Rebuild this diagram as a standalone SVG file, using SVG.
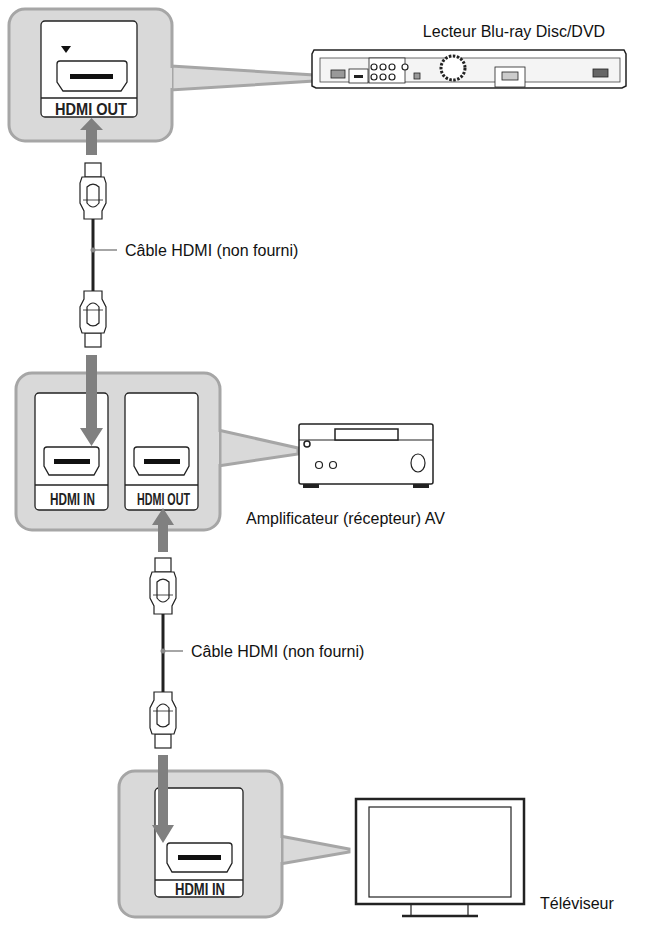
<svg xmlns="http://www.w3.org/2000/svg" width="668" height="926" viewBox="0 0 668 926">
<defs>
<style>
.bub{fill:#d9d9d9;stroke:#a6a6a6;stroke-width:3}
.pan{fill:#fff;stroke:#222;stroke-width:1.3}
.port{fill:#fff;stroke:#222;stroke-width:1.3}
.lbl{font-family:"Liberation Sans Narrow","Liberation Sans",sans-serif;font-weight:bold;font-size:17px;fill:#222}
.txt{font-family:"Liberation Sans",Arial,sans-serif;font-size:16px;fill:#111}
.arr{fill:#808080}
.dev{fill:#fff;stroke:#222;stroke-width:1.5}
.plug{fill:#fff;stroke:#222;stroke-width:1.2}
.cab{stroke:#222;stroke-width:3;fill:none}
.lead{stroke:#888;stroke-width:1.5}
</style>
<g id="plugU">
<rect class="plug" x="-8" y="0" width="16" height="14"/>
<path class="plug" d="M-11 14 H11 L13 20 V40 L9 48 V56 H-9 V48 L-13 40 V20 Z"/>
<path class="plug" d="M-6 24 Q0 18 6 24 V40 Q0 48 -6 40 Z"/>
<line x1="-10" y1="37" x2="10" y2="37" stroke="#222" stroke-width="0.8"/>
</g>
<g id="plugD"><use href="#plugU" transform="scale(1,-1)"/></g>
</defs>

<g id="box-player">
<path class="bub" d="M171 66 L330 76 L330 80 L171 90 Z"/>
<rect class="bub" x="9" y="9" width="163" height="132" rx="16"/>
<path d="M170 68 L170 88" stroke="#d9d9d9" stroke-width="4"/>
<rect class="pan" x="41" y="21" width="96" height="96" rx="4"/>
<line x1="41" y1="98" x2="137" y2="98" stroke="#222" stroke-width="1.3"/>
<path class="port" d="M60 61 H124 Q127 61 127 64 V82 L121 91 H63 L57 82 V64 Q57 61 60 61 Z"/>
<rect x="70" y="74" width="43" height="5" fill="#111"/>
<path d="M61 46 H71 L66 53 Z" fill="#111"/>
<text class="lbl" x="55" y="115" textLength="72" lengthAdjust="spacingAndGlyphs">HDMI OUT</text>
</g>

<g id="player">
<text class="txt" x="514" y="37" text-anchor="middle">Lecteur Blu-ray Disc/DVD</text>
<path class="dev" d="M314 50 H624 L626 54 V86 L622 88 H316 L312 86 V54 Z" fill="#e8e8e8"/>
<rect x="320" y="58" width="300" height="24" fill="#f4f4f4" stroke="#444" stroke-width="0.8"/>
<rect x="331" y="70" width="14" height="8" fill="#999" stroke="#222" stroke-width="0.8"/>
<rect x="349" y="69" width="19" height="14" fill="#fff" stroke="#222" stroke-width="0.8"/>
<rect x="354" y="75" width="9" height="3" fill="#222"/>
<rect x="369" y="58" width="36" height="25" fill="#fff" stroke="#222" stroke-width="0.8"/>
<g fill="#fff" stroke="#222" stroke-width="1.2"><circle cx="374" cy="67" r="3"/><circle cx="383" cy="67" r="3"/><circle cx="392" cy="67" r="3"/><circle cx="405" cy="67" r="3"/><circle cx="374" cy="77" r="3"/><circle cx="383" cy="77" r="3"/><circle cx="392" cy="77" r="3"/></g>
<rect x="414" y="73" width="6" height="6" fill="#999" stroke="#222" stroke-width="0.8"/>
<circle cx="453" cy="68" r="12" fill="#fff" stroke="#222" stroke-width="3" stroke-dasharray="2.5 1.5"/>
<rect x="495" y="67" width="30" height="20" fill="#fff" stroke="#222" stroke-width="0.8"/>
<rect x="502" y="72" width="16" height="8" fill="#ccc" stroke="#222" stroke-width="0.8"/>
<rect x="593" y="69" width="15" height="8" fill="#666" stroke="#222" stroke-width="0.8"/>
</g>

<g id="box-amp">
<path class="bub" d="M218 430 L298 448 L298 454 L218 466 Z"/>
<rect class="bub" x="16" y="373" width="204" height="157" rx="16"/>
<path d="M217 432 L217 464" stroke="#d9d9d9" stroke-width="4"/>
<rect class="pan" x="35" y="393" width="73" height="117" rx="4"/>
<line x1="35" y1="485" x2="108" y2="485" stroke="#222" stroke-width="1.3"/>
<path class="port" d="M47 447 H96 Q99 447 99 450 V466 L94 475 H49 L44 466 V450 Q44 447 47 447 Z"/>
<rect x="54" y="459" width="36" height="5" fill="#111"/>
<text class="lbl" x="50" y="505" textLength="45" lengthAdjust="spacingAndGlyphs">HDMI IN</text>
<rect class="pan" x="125" y="393" width="73" height="117" rx="4"/>
<line x1="125" y1="485" x2="198" y2="485" stroke="#222" stroke-width="1.3"/>
<path class="port" d="M137 447 H186 Q189 447 189 450 V466 L184 475 H139 L134 466 V450 Q134 447 137 447 Z"/>
<rect x="144" y="459" width="36" height="5" fill="#111"/>
<text class="lbl" x="137" y="505" textLength="53" lengthAdjust="spacingAndGlyphs">HDMI OUT</text>
</g>

<g id="amp">
<rect class="dev" x="299" y="424" width="134" height="60" rx="2"/>
<line x1="299" y1="440" x2="433" y2="440" stroke="#222" stroke-width="1.2"/>
<rect class="dev" x="335" y="429" width="63" height="11"/>
<circle cx="307" cy="444" r="3" fill="#fff" stroke="#222" stroke-width="1.5"/>
<circle cx="319" cy="465" r="3.5" fill="#fff" stroke="#222" stroke-width="1.2"/>
<circle cx="333" cy="465" r="3.5" fill="#fff" stroke="#222" stroke-width="1.2"/>
<ellipse cx="418" cy="463" rx="7" ry="9" fill="#fff" stroke="#222" stroke-width="1.2"/>
<rect x="303" y="484" width="16" height="4" fill="#222"/>
<rect x="413" y="484" width="16" height="4" fill="#222"/>
<text class="txt" x="246" y="524">Amplificateur (récepteur) AV</text>
</g>

<g id="box-tv">
<path class="bub" d="M280 836 L349 849 L349 852 L280 864 Z"/>
<rect class="bub" x="119" y="771" width="163" height="146" rx="16"/>
<path d="M279 838 L279 862" stroke="#d9d9d9" stroke-width="4"/>
<rect class="pan" x="155" y="788" width="88" height="109" rx="4"/>
<line x1="155" y1="880" x2="243" y2="880" stroke="#222" stroke-width="1.3"/>
<path class="port" d="M170 843 H229 Q232 843 232 846 V863 L227 872 H172 L167 863 V846 Q167 843 170 843 Z"/>
<rect x="178" y="855" width="43" height="5" fill="#111"/>
<text class="lbl" x="175" y="895" textLength="50" lengthAdjust="spacingAndGlyphs">HDMI IN</text>
</g>

<g id="tv">
<rect x="356" y="799" width="168" height="105" fill="#fff" stroke="#222" stroke-width="2.5"/>
<rect x="369" y="807" width="142" height="90" fill="#fff" stroke="#222" stroke-width="1.2"/>
<path d="M411 904 V915 M468 904 V915" stroke="#222" stroke-width="1.2"/>
<line x1="402" y1="916" x2="478" y2="916" stroke="#222" stroke-width="2.5"/>
<text class="txt" x="540" y="909">Téléviseur</text>
</g>

<g id="connectors">
<path class="arr" d="M86 155 V130 H80 L91.5 118 L103 130 H97 V155 Z"/>
<use href="#plugU" x="93" y="163"/>
<line class="cab" x1="93" y1="219" x2="93" y2="292"/>
<use href="#plugD" x="93" y="347"/>
<circle cx="93" cy="250" r="2.5" fill="#888"/>
<line class="lead" x1="93" y1="250" x2="117" y2="250"/>
<text class="txt" x="125" y="256">Câble HDMI (non fourni)</text>
<path class="arr" d="M86 355 V428 H80 L91.5 446 L103 428 H97 V355 Z"/>

<path class="arr" d="M158 552 V525 H152 L163 508 L174 525 H168 V552 Z"/>
<use href="#plugU" x="163" y="558"/>
<line class="cab" x1="163" y1="614" x2="163" y2="694"/>
<use href="#plugD" x="163" y="748"/>
<circle cx="163" cy="651" r="2.5" fill="#888"/>
<line class="lead" x1="163" y1="651" x2="183" y2="651"/>
<text class="txt" x="191" y="657">Câble HDMI (non fourni)</text>
<path class="arr" d="M158 755 V825 H152 L163 843 L174 825 H168 V755 Z"/>
</g>
</svg>
